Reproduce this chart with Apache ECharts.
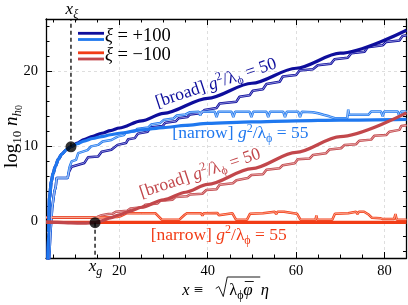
<!DOCTYPE html>
<html><head><meta charset="utf-8">
<script src="https://cdn.jsdelivr.net/npm/echarts@6/dist/echarts.min.js"></script>
<style>html,body{margin:0;padding:0;background:#fff}#c{width:408px;height:305px}</style>
</head><body><div id="c"></div>
<script>
// ---- axes / ticks ----
const xRange = [3.4, 85];
const yRange = [-4.85, 26.95];
const xMajor = [20, 40, 60, 80];
const xMinor = [5, 10, 15, 25, 30, 35, 45, 50, 55, 65, 70, 75, 85];
const yMajor = [0, 10, 20];
const yMinor = [-4, -2, 2, 4, 6, 8, 12, 14, 16, 18, 22, 24, 26];

// ---- xi = +100 ----
const posBroadSmooth = [[3.8,-5.2],[3.95,-1.5],[4.2,3.2],[4.6,5.3],[5.0,6.4],[5.5,7.3],[6.2,8.3],[7.0,9.0],[8.0,9.55],[9.05,9.95],[10.5,10.45],[12,10.9],[14,11.35],[16,11.75],[18,12.1],[20,12.45],[25,13.4],[30,14.4],[40,16.4],[50,18.4],[60,20.4],[70,22.4],[85,25.45]];
const posNarrowSmooth = [[3.8,-5.2],[3.95,-1.5],[4.2,3.2],[4.6,5.3],[5.0,6.4],[5.5,7.3],[6.2,8.3],[7.0,9.0],[8.0,9.55],[9.05,9.95],[10.5,10.35],[12,10.7],[14,11.05],[16,11.3],[18,11.55],[20,11.75],[25,12.2],[30,12.5],[35,12.8],[40,13.05],[50,13.25],[60,13.4],[70,13.5],[85,13.6]];
const posBroadStair = [[4.1,-5.2],[4.4,-1.5],[4.8,1.8],[5.3,4.0],[5.6,4.6],[5.8,5.8],[8.3,5.8],[8.6,6.6],[9.2,7.3],[12.1,7.8],[12.9,8.55],[15.2,8.65],[16.0,9.3],[18.2,9.55],[19.6,10.2],[21.5,10.45],[22.0,10.95],[23.5,11.1],[24.2,11.7],[26.4,11.95],[27.0,12.5],[29.8,12.7],[30.4,13.15],[32.8,13.35],[33.4,13.75],[35.4,13.9],[36.0,14.25],[38.6,14.45],[39.3,14.85],[42.0,15.1],[42.7,15.7],[46.5,15.95],[47.2,16.6],[49.5,16.8],[50.2,17.4],[52.5,17.6],[53.3,18.3],[56.3,18.6],[57.0,19.3],[60.0,19.5],[60.8,20.1],[63.8,20.25],[64.9,20.8],[67.9,21.0],[68.7,21.6],[71.7,21.8],[72.5,22.4],[75.5,22.6],[76.2,23.2],[79.6,23.45],[80.4,23.9],[83.4,24.1],[84.1,24.7],[85,24.8]];
const posNarrowStair = [[4.1,-5.2],[4.4,-1.5],[4.8,1.8],[5.3,4.0],[5.6,4.6],[5.8,5.8],[8.3,5.8],[8.7,7.2],[9.2,8.0],[10.2,8.2],[10.7,9.1],[12.8,9.5],[13.6,10.0],[15.2,10.2],[16.2,10.65],[18.2,10.85],[19.6,11.3],[21.0,11.5],[21.4,11.8],[23.5,12.0],[24.0,12.3],[26.5,12.5],[27.2,12.9],[29.2,13.1],[30.0,13.5],[32.2,13.7],[33.0,14.1],[35.0,14.25],[36.0,14.55],[38.0,14.6],[38.3,14.1],[38.6,14.6],[41.6,14.6],[42.0,13.9],[42.4,14.6],[45.4,14.6],[45.8,13.9],[46.2,14.6],[49.5,14.6],[49.9,13.9],[50.3,14.6],[53.3,14.6],[53.7,13.9],[54.1,14.6],[57.1,14.6],[57.5,13.9],[57.9,14.6],[60.5,14.6],[60.9,13.9],[61.3,14.6],[63.8,14.55],[65.0,14.4],[66.2,14.2],[67.5,14.0],[68.8,13.75],[71.6,13.75],[71.8,14.9],[72.0,14.2],[76.4,14.2],[77.0,14.65],[79.2,14.65],[79.6,14.0],[80.0,14.65],[83.0,14.65],[83.4,14.0],[83.8,14.65],[85,14.65]];

// ---- xi = -100 ----
const negBroadSmooth = [[3.4,-0.08],[6,-0.12],[9,-0.18],[12,-0.22],[14.5,-0.15],[16,0.1],[18,0.5],[20,0.9],[22.5,1.4],[25,1.9],[30,2.9],[35,3.9],[40,4.95],[50,7.05],[60,9.2],[70,11.3],[85,14.45]];
const negNarrowSmooth = [[3.4,-0.08],[10,-0.1],[40,-0.1],[85,-0.1]];
const negBroadStair = [[3.4,0.55],[14,0.55],[15,0.62],[16,0.85],[17.5,1.0],[18.5,1.05],[19.2,1.3],[21.8,1.45],[22.5,1.75],[25.2,1.9],[25.9,2.25],[28.6,2.4],[29.3,2.75],[32.0,2.9],[32.7,3.25],[35.3,3.35],[36.0,3.6],[38.8,3.7],[39.7,4.2],[42.0,4.3],[42.7,4.9],[45.7,5.1],[46.5,5.5],[49.1,5.8],[49.9,6.2],[52.5,6.3],[53.3,6.9],[56.3,7.1],[57.0,7.5],[59.7,7.75],[60.4,8.3],[63.1,8.4],[63.8,8.85],[66.8,9.1],[67.6,9.6],[70.2,9.75],[71.0,10.2],[73.6,10.3],[74.3,10.75],[77.0,10.9],[77.7,11.4],[80.4,11.5],[81.1,11.95],[83.4,12.2],[83.8,12.7],[85,12.8]];
const negNarrowStair = [[3.4,0.55],[10,0.55],[15,0.55],[19.5,0.6],[20.2,0.7],[21.6,1.1],[25,1.1],[25.3,0.85],[25.6,1.1],[28.2,1.1],[28.5,0.9],[29.6,0.25],[33.6,0.25],[34.8,0.9],[35.3,1.1],[38.5,1.1],[38.8,0.8],[39.1,1.1],[42.2,1.15],[42.5,0.85],[42.8,1.1],[45.6,1.1],[46.4,0.25],[48.9,0.25],[49.6,1.05],[52.5,1.1],[52.9,1.3],[55.2,1.3],[55.5,1.0],[55.8,1.3],[57.3,1.3],[57.6,1.05],[60.2,1.05],[61.0,0.25],[64.4,0.25],[64.6,0.8],[64.8,0.25],[68.2,0.25],[68.8,1.05],[71.8,1.1],[72.2,1.3],[73.6,1.3],[73.9,1.0],[74.2,1.3],[75.4,1.3],[75.7,1.05],[76.5,0.9],[77.2,0.5],[79.0,0.45],[79.5,0.35],[82.2,0.35],[82.5,1.0],[82.8,0.25],[85,0.25]];

// ---- markers ----
const xiPoint = [9.05, 9.95];
const gPoint = [14.5, -0.15];

const F = 'Liberation Serif';
const NAVY = '#0e0e9c', LBLUE = '#1f78ef', ORANGE = '#f23c16', BROWN = '#c2474b';
const NAVY_IN = '#9a9ae0', LBLUE_IN = '#a9cbf8', ORANGE_IN = '#f9ab95', BROWN_IN = '#e6aaac';

const chart = echarts.init(document.getElementById('c'));

function stair(data, color, inner) {
  return [
    {type:'line', data, symbol:'none', silent:true, lineStyle:{color, width:2.5}, z:2},
    {type:'line', data, symbol:'none', silent:true, lineStyle:{color:inner, width:0.9}, z:3}
  ];
}
function smooth(data, color, z) {
  return {type:'line', data, symbol:'none', silent:true, smooth:0.3, smoothMonotone:'x', lineStyle:{color, width:3.2}, z};
}
const tickLine = {color:'#000', width:1};
function xAx(pos, vals, len, main, labels) {
  return {type:'value', position:pos, min:xRange[0], max:xRange[1],
    axisLine:{show:main, onZero:false, lineStyle:{color:'#000', width:1.3}},
    axisTick:{show:true, inside:true, length:len, customValues:vals, lineStyle:tickLine},
    axisLabel:{show:labels, customValues:vals, margin:6, color:'#000', fontFamily:F, fontSize:14.5},
    splitLine:{show:labels, lineStyle:{color:'#d6d6d6', width:0.8, type:[3,3]}}};
}
function yAx(pos, vals, len, main, labels) {
  return {type:'value', position:pos, min:yRange[0], max:yRange[1],
    axisLine:{show:main, onZero:false, lineStyle:{color:'#000', width:1.3}},
    axisTick:{show:true, inside:true, length:len, customValues:vals, lineStyle:tickLine},
    axisLabel:{show:labels, customValues:vals, margin:8, color:'#000', fontFamily:F, fontSize:14.5},
    splitLine:{show:labels, lineStyle:{color:'#d6d6d6', width:0.8, type:[3,3]}}};
}

const series = [].concat(
  stair(posBroadStair, NAVY, NAVY_IN),
  stair(posNarrowStair, LBLUE, LBLUE_IN),
  stair(negBroadStair, BROWN, BROWN_IN),
  stair(negNarrowStair, ORANGE, ORANGE_IN),
  [smooth(posBroadSmooth, NAVY, 4), smooth(posNarrowSmooth, LBLUE, 5),
   smooth(negNarrowSmooth, ORANGE, 6), smooth(negBroadSmooth, BROWN, 7),
   {type:'line', data:[xiPoint, [xiPoint[0], yRange[1]]], symbol:'none', silent:true, lineStyle:{color:'#000', width:1.3, type:[4,3]}, z:8},
   {type:'line', data:[gPoint, [gPoint[0], yRange[0]]], symbol:'none', silent:true, lineStyle:{color:'#000', width:1.3, type:[4,3]}, z:8},
   {type:'scatter', data:[xiPoint, gPoint], symbolSize:11, itemStyle:{color:'#000'}, silent:true, z:9}]
);

chart.setOption({
  animation:false,
  grid:{left:46, right:1.5, top:19, bottom:47},
  xAxis:[xAx('bottom', xMajor, 6, true, true), xAx('bottom', xMinor, 3.5, false, false),
         xAx('top', xMajor, 6, true, false), xAx('top', xMinor, 3.5, false, false)],
  yAxis:[yAx('left', yMajor, 6, true, true), yAx('left', yMinor, 3.5, false, false),
         yAx('right', yMajor, 6, true, false), yAx('right', yMinor, 3.5, false, false)],
  series
});

// ---- annotations ----
const P = (pt) => chart.convertToPixel({gridIndex:0}, pt);
function rich(size, color) {
  const s = Math.round(size*0.7);
  return {
    n:{fontFamily:F, fontSize:size, lineHeight:size+5, fill:color},
    it:{fontFamily:F, fontSize:size, fontStyle:'italic', lineHeight:size+5, fill:color},
    sub:{fontFamily:F, fontSize:s, verticalAlign:'bottom', fill:color},
    subi:{fontFamily:F, fontSize:s, fontStyle:'italic', verticalAlign:'bottom', fill:color},
    subsub:{fontFamily:F, fontSize:Math.round(size*0.52), verticalAlign:'bottom', fill:color},
    sup:{fontFamily:F, fontSize:s, verticalAlign:'top', fill:color}
  };
}
function angle(a, b) { const p = P(a), q = P(b); return Math.atan2(p[1]-q[1], q[0]-p[0]); }
function txt(text, p, color, size, rot, align) {
  return {type:'text', x:p[0], y:p[1], rotation:rot||0, z:20,
    style:{text, rich:rich(size, color), fill:color, align:align||'center', verticalAlign:'middle'}};
}
const tl = P([xRange[0], yRange[1]]), br = P([xRange[1], yRange[0]]);
const cx = (tl[0]+br[0])/2;
const G = [];
// annotations along curves
G.push(txt('{n|[broad] }{it|g}{sup|2}{n|/λ}{sub|ϕ}{n| = 50}', P([41.9, 18.4]), NAVY, 17.5, angle([30,14.4],[70,22.4])*0.97));
G.push(txt('{n|[narrow] }{it|g}{sup|2}{n|/λ}{sub|ϕ}{n| = 55}', P([47.4, 11.7]), LBLUE, 17.5, 0));
G.push(txt('{n|[broad] }{it|g}{sup|2}{n|/λ}{sub|ϕ}{n| = 50}', P([38.3, 6.4]), BROWN, 17.5, angle([30,2.9],[70,11.3])*0.93));
G.push(txt('{n|[narrow] }{it|g}{sup|2}{n|/λ}{sub|ϕ}{n| = 55}', P([42.5, -1.85]), ORANGE, 17.5, 0));
// marker labels
const px = P(xiPoint), pg = P(gPoint);
G.push(txt('{it|x}{subi|ξ}', [px[0]+1, tl[1]-9], '#000', 17, 0));
G.push(txt('{it|x}{subi|g}', [pg[0]+0.5, br[1]+9], '#000', 17, 0));
// legend
const legendRows = [[NAVY, LBLUE, '{it|ξ}{n| = +100}'], [ORANGE, BROWN, '{it|ξ}{n| = −100}']];
legendRows.forEach((r, i) => {
  const y0 = tl[1] + 14.3 + i*19.5;
  G.push({type:'line', z:20, shape:{x1:tl[0]+32, y1:y0, x2:tl[0]+58, y2:y0}, style:{stroke:r[0], lineWidth:2.8}});
  G.push({type:'line', z:20, shape:{x1:tl[0]+32, y1:y0+6.2, x2:tl[0]+58, y2:y0+6.2}, style:{stroke:r[1], lineWidth:2.8}});
  G.push(txt(r[2], [tl[0]+59, y0+2.5], '#000', 18.5, 0, 'left'));
});
// y axis name
G.push(txt('{n|log}{sub|10}{it| n}{subi|h}{subsub|0}', [12, (tl[1]+br[1])/2 - 2], '#000', 19, Math.PI/2));
// x axis name: x ≡ √(λϕ φ̄) η
const yb = br[1] + 33;
G.push(txt('{it|x}{n| ≡}', [cx-44, yb], '#000', 16.5, 0, 'left'));
G.push(txt('{n|λ}{sub|ϕ}', [cx+3, yb], '#000', 16.5, 0, 'left'));
G.push(txt('{it|φ}', [cx+17, yb], '#000', 17, 0, 'left'));
G.push(txt('{it|η}', [cx+34.5, yb], '#000', 16.5, 0, 'left'));
G.push({type:'polyline', z:20, shape:{points:[[cx-10.5, yb-2.5],[cx-7.5, yb-4.5],[cx-3, yb+5.5],[cx+1, yb-14],[cx+34, yb-14]]}, style:{stroke:'#000', lineWidth:0.9, fill:null}});
G.push({type:'line', z:20, shape:{x1:cx+18.5, y1:yb-9.5, x2:cx+27.5, y2:yb-9.5}, style:{stroke:'#000', lineWidth:0.9}});

chart.setOption({graphic:G});
</script>
</body></html>
